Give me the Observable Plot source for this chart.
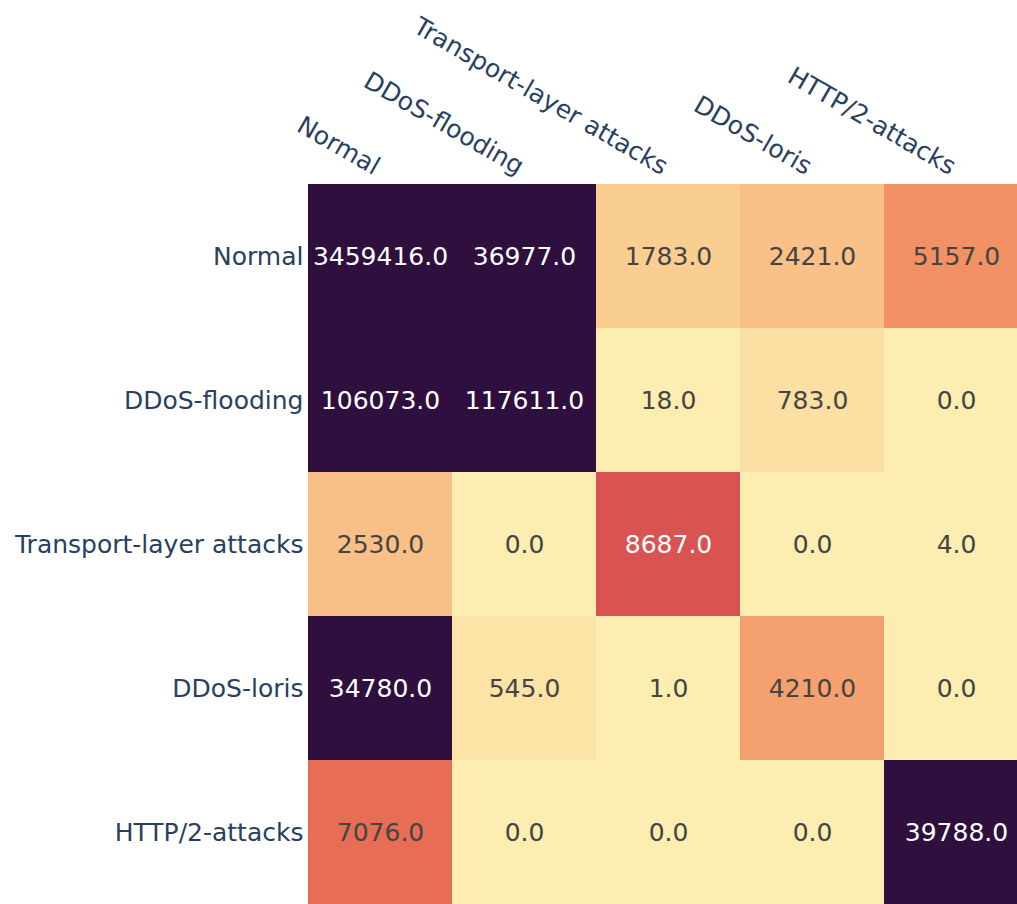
<!DOCTYPE html>
<html><head><meta charset="utf-8">
<script src="https://cdn.jsdelivr.net/npm/d3@7"></script>
<script src="https://cdn.jsdelivr.net/npm/@observablehq/plot@0.6"></script>
<style>html,body{margin:0;padding:0;overflow:hidden;background:#fff} svg{display:block}</style>
</head><body><div id="chart"></div>
<script>
const classes = ["Normal", "DDoS-flooding", "Transport-layer attacks", "DDoS-loris", "HTTP/2-attacks"];
const rowNormal    = [3459416, 36977, 1783, 2421, 5157];
const rowFlooding  = [106073, 117611, 18, 783, 0];
const rowTransport = [2530, 0, 8687, 0, 4];
const rowLoris     = [34780, 545, 1, 4210, 0];
const rowHttp2     = [7076, 0, 0, 0, 39788];
const rows = [rowNormal, rowFlooding, rowTransport, rowLoris, rowHttp2];

// cmocean "matter" colorscale (as in Plotly)
const matter = ["rgb(253, 237, 176)", "rgb(250, 205, 145)", "rgb(246, 173, 119)", "rgb(240, 142, 98)",
  "rgb(231, 109, 84)", "rgb(216, 80, 83)", "rgb(195, 56, 90)", "rgb(168, 40, 96)",
  "rgb(138, 29, 99)", "rgb(107, 24, 93)", "rgb(76, 21, 80)", "rgb(47, 15, 61)"];
const colorMax = 19500;

const data = rows.flatMap((r, i) => r.map((v, j) => ({actual: classes[i], predicted: classes[j], value: v})));
const interp = d3.piecewise(d3.interpolateRgb, matter);
const colorOf = v => interp(Math.min(1, Math.max(0, v / colorMax)));
const textFill = d => d3.lab(colorOf(d.value)).l < 58 ? "white" : "#444444";
const fmt = d3.format(".1f");

const chart = Plot.plot({
  width: 1030,
  height: 905,
  marginLeft: 306,
  marginTop: 183,
  marginRight: 0,
  marginBottom: 0,
  style: {fontFamily: "'DejaVu Sans', sans-serif", fontSize: "25px", color: "#2a3f5f", background: "white", overflow: "visible", maxWidth: "none"},
  x: {domain: classes, padding: 0},
  y: {domain: classes, padding: 0},
  color: {type: "linear", domain: matter.map((c, i) => i * colorMax / (matter.length - 1)), range: matter, clamp: true},
  marks: [
    Plot.cell(data, {x: "predicted", y: "actual", fill: "value", inset: 0, shapeRendering: "crispEdges"}),
    Plot.text(data, {x: "predicted", y: "actual", text: d => fmt(d.value), fill: textFill, fontSize: 25}),
    Plot.axisX({anchor: "top", tickSize: 0, tickRotate: 30, tickPadding: 15, dx: -3, label: null, fontSize: 25}),
    Plot.axisY({anchor: "left", tickSize: 0, tickPadding: 3, label: null, fontSize: 25})
  ]
});
document.getElementById("chart").appendChild(chart);
</script>
</body></html>
